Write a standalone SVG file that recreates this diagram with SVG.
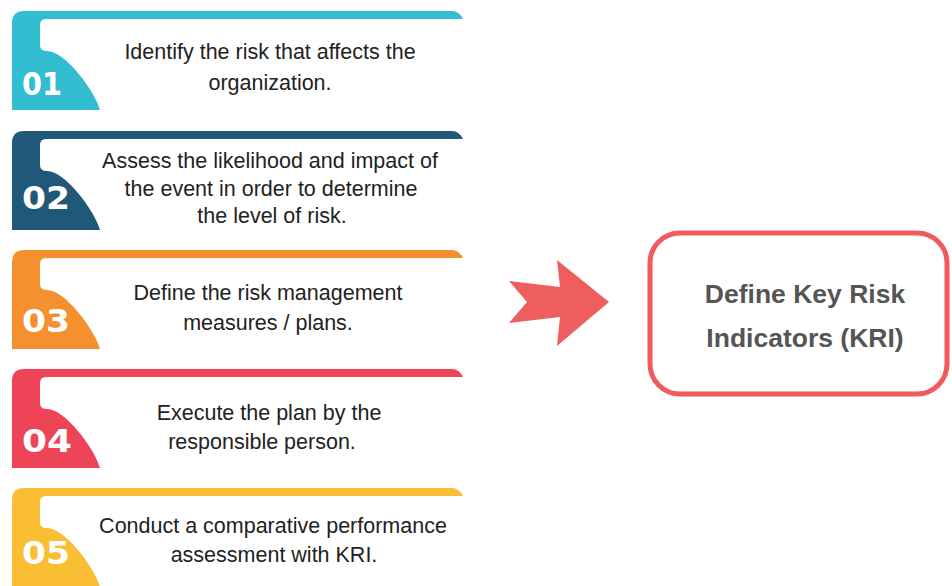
<svg xmlns="http://www.w3.org/2000/svg" width="952" height="586" viewBox="0 0 952 586">
<style>
.t{font-family:"Liberation Sans",Arial,sans-serif;font-size:21.5px;fill:#222;text-anchor:middle}
.n{font-family:"DejaVu Sans","Liberation Sans",sans-serif;font-weight:bold;font-size:32px;fill:#fff}
.k{font-family:"Liberation Sans",Arial,sans-serif;font-weight:bold;font-size:26.5px;fill:#555;text-anchor:middle}
</style>
<defs>
<path id="tab" d="M12,99 V12 Q12,0 24,0 H452 Q459,0 463,8 H46 Q40,8 40,14 V34 Q40,40 47,40 C65,40 95,80 100,99 Z"/>
</defs>
<rect width="952" height="586" fill="#fff"/>
<g id="step1">
<use href="#tab" transform="translate(0,11)" fill="#33BDD0"/>
<text class="n" x="22" y="95" textLength="40" lengthAdjust="spacingAndGlyphs">01</text>
<text class="t" x="270" y="59">Identify the risk that affects the</text>
<text class="t" x="270" y="90">organization.</text>
</g>
<g id="step2">
<use href="#tab" transform="translate(0,131)" fill="#1F5878"/>
<text class="n" x="22" y="209" textLength="48" lengthAdjust="spacingAndGlyphs">02</text>
<text class="t" x="270" y="168">Assess the likelihood and impact of</text>
<text class="t" x="271" y="196">the event in order to determine</text>
<text class="t" x="272" y="223">the level of risk.</text>
</g>
<g id="step3">
<use href="#tab" transform="translate(0,250)" fill="#F5902F"/>
<text class="n" x="22" y="332" textLength="48" lengthAdjust="spacingAndGlyphs">03</text>
<text class="t" x="268" y="300">Define the risk management</text>
<text class="t" x="268" y="330">measures / plans.</text>
</g>
<g id="step4">
<use href="#tab" transform="translate(0,369)" fill="#EE4458"/>
<text class="n" x="22" y="452" textLength="50" lengthAdjust="spacingAndGlyphs">04</text>
<text class="t" x="269" y="420">Execute the plan by the</text>
<text class="t" x="262" y="449">responsible person.</text>
</g>
<g id="step5">
<use href="#tab" transform="translate(0,488)" fill="#F9BE34"/>
<text class="n" x="22" y="564" textLength="48" lengthAdjust="spacingAndGlyphs">05</text>
<text class="t" x="273" y="533">Conduct a comparative performance</text>
<text class="t" x="274" y="562">assessment with KRI.</text>
</g>
<g id="connectors">
<path d="M509,281 L560,287 L557,260 L609,302 L557,346 L560,317 L509,323 L527,302 Z" fill="#EF5E5E"/>
</g>
<g id="kri">
<rect x="650" y="233" width="297" height="161" rx="30" fill="#fff" stroke="#F25A5E" stroke-width="5"/>
<text class="k" x="805" y="303">Define Key Risk</text>
<text class="k" x="805" y="347">Indicators (KRI)</text>
</g>
</svg>
